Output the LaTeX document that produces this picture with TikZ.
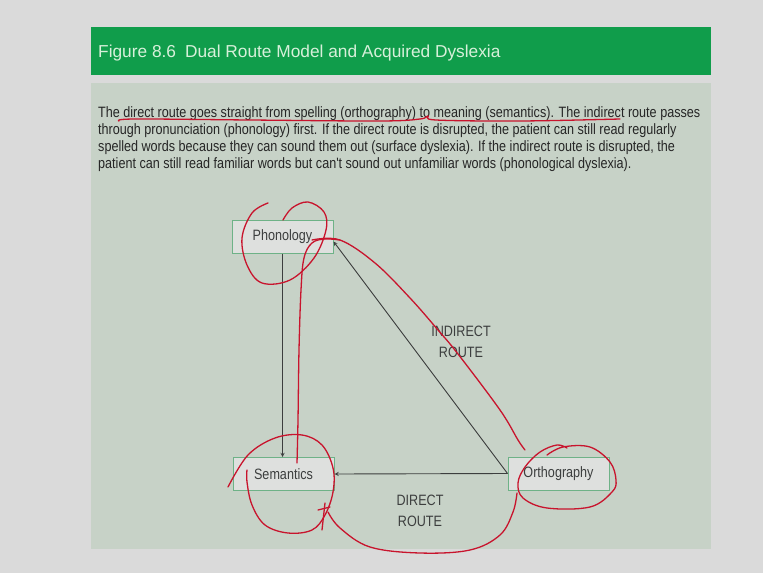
\documentclass[tikz,border=0pt]{standalone}
\usepackage{fontspec}
\setmainfont{Liberation Sans}
\newfontfamily\condfont[FakeStretch=0.84]{Liberation Sans}
\usetikzlibrary{arrows.meta, positioning, calc}
\definecolor{pagegray}{RGB}{218,218,218}
\definecolor{headgreen}{RGB}{16,157,75}
\definecolor{titletext}{RGB}{215,240,218}
\definecolor{panelgreen}{RGB}{199,210,199}
\definecolor{boxgreen}{RGB}{110,178,135}
\definecolor{boxfill}{RGB}{222,224,222}
\definecolor{inkgray}{RGB}{60,62,62}
\definecolor{penred}{RGB}{200,20,45}

\begin{document}
\begin{tikzpicture}[x=1pt, y=-1pt,
        box/.style={rectangle, draw=boxgreen, fill=boxfill, line width=1pt, minimum width=101pt, minimum height=33pt, inner sep=0pt, font=\condfont\fontsize{15}{18}\selectfont, text=inkgray},
        arrow/.style={->, >=stealth, draw=inkgray, line width=0.9pt},
        route/.style={align=center, font=\condfont\fontsize{15}{21.5}\selectfont, text=inkgray},
        pen/.style={draw=penred, line width=1.3pt, line cap=round, line join=round}
    ]
        % page, header and panel
        \fill[pagegray] (0,0) rectangle (763,573);
        \fill[headgreen] (91,27) rectangle (711,75);
        \fill[panelgreen] (91,83) rectangle (711,549);

        \node[anchor=west, inner sep=0pt, font=\fontsize{17.3}{20}\selectfont, text=titletext] (title) at (98,53) {Figure 8.6\hspace{9pt}Dual Route Model and Acquired Dyslexia};

        \node[anchor=north west, align=left, inner sep=0pt, font=\condfont\fontsize{15}{17.3}\selectfont, text=black!85] (para) at (98,106) {The direct route goes straight from spelling (orthography) to meaning (semantics). The indirect route passes\\through pronunciation (phonology) first. If the direct route is disrupted, the patient can still read regularly\\spelled words because they can sound them out (surface dyslexia). If the indirect route is disrupted, the\\patient can still read familiar words but can't sound out unfamiliar words (phonological dyslexia).};

        % the three boxes
        \node[box] (phon) at (282.5,236.5) {Phonology};
        \node[box] (sem) at (283.5,474) {Semantics};
        \node[box] (orth) at (558.5,473.5) {Orthography};

        \draw[arrow] (phon.south) -- (phon.south |- sem.north);
        \draw[arrow] (orth.west) -- (sem.east);
        \draw[arrow] (orth.west) -- ([yshift=-5pt]phon.east);

        \node[route] (indirect) at (461,342) {INDIRECT\\ROUTE};
        \node[route] (direct) at (420,511) {DIRECT\\ROUTE};

        % red pen marks
        \draw[pen] plot[smooth, tension=0.6] coordinates {(119,121) (135,119) (250,120) (380,121) (420,119) (428,116) (436,120) (520,121) (620,119)};
        \draw[pen] plot[smooth, tension=0.6] coordinates {(268,203) (252,213) (242,238) (247,265) (262,283) (290,280) (314,258) (326,230) (324,212) (308,202) (292,208) (283,220)};
        \draw[pen] plot[smooth, tension=0.6] coordinates {(297,463) (298,420) (299,350) (301,290) (304,258) (312,243) (325,239) (340,240)};
        \draw[pen] plot[smooth, tension=0.6] coordinates {(312,240) (340,240) (375,263) (410,298) (438,330) (458,354) (500,410) (518,440) (525,450)};
        \draw[pen] plot[smooth, tension=0.6] coordinates {(228,487) (248,455) (275,438) (302,435) (322,445) (333,468) (333,492) (325,515) (312,530) (288,533) (265,525) (252,505) (247,482) (247,470)};
        \draw[pen] plot[smooth, tension=0.6] coordinates {(517,493) (513,512) (500,535) (470,550) (420,553) (370,547) (340,528) (328,512)};
        \draw[pen] (325,503) -- (322,530);
        \draw[pen] (318,510) -- (330,507);
        \draw[pen] plot[smooth, tension=0.6] coordinates {(547,455) (563,447) (590,447) (610,462) (616,480) (612,492) (590,507) (547,508) (523,498) (518,483) (525,467) (540,452) (557,445) (567,448)};
    \end{tikzpicture}
\end{document}
